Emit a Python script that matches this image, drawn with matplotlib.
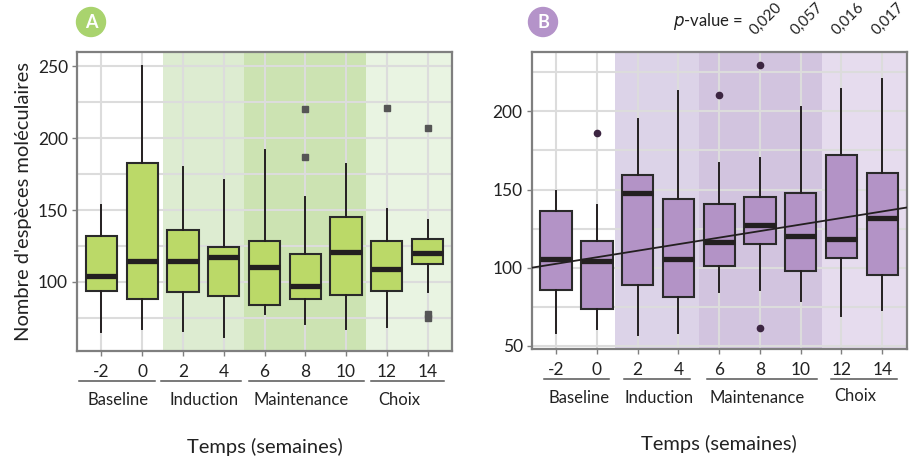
import matplotlib
matplotlib.use("Agg")
import matplotlib.pyplot as plt
import matplotlib.transforms as mtransforms
from matplotlib.patches import Ellipse

plt.rcParams['font.family'] = ['Lato', 'DejaVu Sans']

# ---------------- data ----------------
weeks = ["-2", "0", "2", "4", "6", "8", "10", "12", "14"]
groups = ["Baseline", "Induction", "Maintenance", "Choix"]

# Panel A
a_whislo = [65, 67, 66, 62, 78, 71, 67, 69, 93]
a_q1     = [94, 88, 93, 90.5, 84, 88.5, 91, 94, 112.5]
a_med    = [104, 114.5, 114.5, 117.5, 110.5, 97.5, 121, 109, 120.5]
a_q3     = [132, 183, 136, 124.5, 128.5, 119.5, 145, 128.5, 130]
a_whishi = [153.5, 250, 180, 171, 191.5, 159, 182, 151, 143]
a_fliers = [[], [], [], [], [], [220, 187], [], [221], [207, 78, 75]]

# Panel B
b_whislo = [58.5, 61, 57, 58.5, 84.5, 86, 78.5, 69, 73]
b_q1     = [85.5, 73.5, 89, 81.5, 101, 115, 98, 106.5, 95.5]
b_med    = [105.5, 104.5, 147.5, 105.5, 116.5, 127.5, 120.5, 118.5, 131.5]
b_q3     = [136.5, 117, 159.5, 144, 141, 145.5, 148, 172, 160.5]
b_whishi = [149, 140, 195, 213, 167, 170.5, 203, 214.5, 220.5]
b_fliers = [[], [186.5], [], [], [210.5], [229.5, 61.5], [], [], []]

trend_x = [-0.6, 8.6]
trend_y = [100, 138.5]

p_values = ["0,020", "0,057", "0,016", "0,017"]

# ---------------- style ----------------
W, H = 918, 458
fig = plt.figure(figsize=(W / 100, H / 100), dpi=100)

def px_axes(l, t, r, b):
    return fig.add_axes([l / W, 1 - b / H, (r - l) / W, (b - t) / H])

axA = px_axes(77, 52, 452, 351)
axB = px_axes(531.7, 52, 906.7, 349)

def make_stats(lo, q1, med, q3, hi, fl):
    return [dict(whislo=lo[i], q1=q1[i], med=med[i], q3=q3[i], whishi=hi[i],
                 fliers=fl[i]) for i in range(len(weeks))]

def style_axes(ax, ylim, yticks, minor, shades, colors):
    ax.set_xlim(-0.6, 8.6)
    ax.set_ylim(*ylim)
    for (x0, x1), c in zip(shades, colors):
        ax.axvspan(x0, x1, color=c, lw=0, zorder=0)
    ax.set_yticks(yticks)
    ax.set_yticks(minor, minor=True)
    ax.set_xticks(range(len(weeks)))
    ax.set_xticklabels(weeks)
    ax.set_xticks([], minor=True)
    ax.grid(True, which='major', color='#dcdcdc', lw=1.5, zorder=0.5)
    ax.grid(True, which='minor', axis='y', color='#dcdcdc', lw=1.5, zorder=0.5)
    ax.set_axisbelow(True)
    ax.tick_params(which='minor', length=0)
    ax.tick_params(which='major', length=3.5, width=1, color='#7f7f7f',
                   labelsize=12.5, labelcolor='#222222', pad=3)
    ax.tick_params(axis='x', pad=6)
    for s in ax.spines.values():
        s.set_color('#7f7f7f')
        s.set_linewidth(1.6)
    ax.set_facecolor('white')

def draw_groups(ax, spans, labels_x, label_y):
    tr = mtransforms.blended_transform_factory(ax.transData, ax.transAxes)
    for (x0, x1) in spans:
        ax.plot([x0, x1], [-0.102, -0.102], transform=tr, color='#555555',
                lw=1.1, clip_on=False)
    for g, lx, ly in zip(groups, labels_x, label_y):
        ax.text(lx, ly, g, transform=tr, ha='center', va='center',
                fontsize=12, color='#222222')
    ax.text(0.5, -0.32, "Temps (semaines)", transform=ax.transAxes,
            ha='center', va='center', fontsize=14.5, color='#222222')

def draw_boxes(ax, stats, fill, flier_kw):
    ax.bxp(stats, positions=list(range(len(stats))), widths=0.77,
           patch_artist=True, showcaps=False, manage_ticks=False,
           boxprops=dict(facecolor=fill, edgecolor='#2a2a2a', lw=1.5),
           medianprops=dict(color='#231f20', lw=3.8, solid_capstyle='butt'),
           whiskerprops=dict(color='#231f20', lw=1.4),
           flierprops=flier_kw, zorder=3)

# Panel A
draw_boxes(axA, make_stats(a_whislo, a_q1, a_med, a_q3, a_whishi, a_fliers),
           '#bbd968', dict(marker='s', markersize=4.5, markerfacecolor='#555555',
                           markeredgecolor='#555555', linestyle='none'))
style_axes(axA, (52, 260), [100, 150, 200, 250], [75, 125, 175, 225],
           [(1.5, 3.5), (3.5, 6.5), (6.5, 8.6)],
           ['#ddecd1', '#cce3b2', '#e9f4e2'])
draw_groups(axA, [(-0.54, 1.31), (1.47, 3.43), (3.61, 6.44), (6.62, 8.41)],
            [0.41, 2.51, 4.9, 7.3], [-0.165] * 4)
axA.set_ylabel("Nombre d'espèces moléculaires", fontsize=14.5, color='#222222',
               labelpad=4)

# Panel B
draw_boxes(axB, make_stats(b_whislo, b_q1, b_med, b_q3, b_whishi, b_fliers),
           '#b393c6', dict(marker='o', markersize=4.5, markerfacecolor='#3c2541',
                           markeredgecolor='#3c2541', linestyle='none'))
style_axes(axB, (48, 238), [50, 100, 150, 200], [75, 125, 175, 225],
           [(1.45, 3.5), (3.5, 6.52), (6.52, 8.6)],
           ['#dcd3e8', '#d2c4df', '#e6dcee'])
axB.plot(trend_x, trend_y, color='#231f20', lw=1.3, zorder=4)
draw_groups(axB, [(-0.3, 1.29), (1.67, 3.28), (3.69, 6.41), (6.75, 8.36)],
            [0.55, 2.53, 4.93, 7.34], [-0.165, -0.165, -0.165, -0.158])

# p-values
trB = mtransforms.blended_transform_factory(axB.transData, axB.transAxes)
for i, pv in zip([5, 6, 7, 8], p_values):
    axB.text(i - 0.12, 1.056, pv, transform=trB, rotation=45,
             rotation_mode='anchor', ha='left', va='baseline',
             fontsize=11, color='#222222')
fig.text(673 / W, 1 - 22 / H, r"$\it{p}$" + "-value =", ha='left', va='center',
         fontsize=12, color='#222222')

# badges
for cx, txt, col in [(91, "A", '#a9d36e'), (543, "B", '#b493c9')]:
    fig.patches.append(Ellipse((cx / W, 1 - 22 / H), 29 / W, 29 / H,
                               transform=fig.transFigure, color=col, zorder=5))
    fig.text(cx / W, 1 - 22.5 / H, txt, ha='center', va='center', fontsize=13,
             fontweight='bold', color='white', zorder=6)

fig.savefig("out.png", dpi=100)
